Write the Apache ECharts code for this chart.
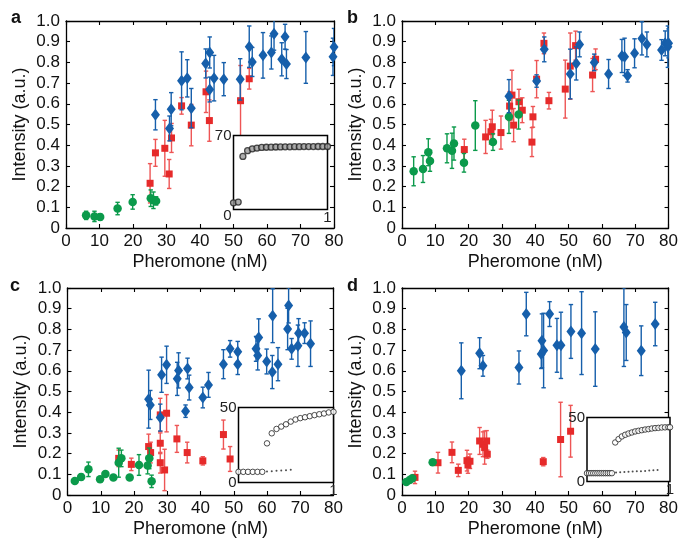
<!DOCTYPE html>
<html><head><meta charset="utf-8">
<script src="https://cdn.jsdelivr.net/npm/echarts@6/dist/echarts.min.js"></script>
<style>html,body{margin:0;padding:0;background:#fff}#c{width:681px;height:540px}</style>
</head><body><div id="c"></div>
<script>
// ---- data: [pheromone nM, intensity, error] ----
const xTickValues = [0,10,20,30,40,50,60,70,80];
const yTickValues = [0,0.1,0.2,0.3,0.4,0.5,0.6,0.7,0.8,0.9,1.0];
const panelLetters = ['a','b','c','d'];

const aGreen = [[6.0,0.061,0.02],[8.5,0.056,0.025],[10.2,0.053,0.015],[15.4,0.094,0.03],[19.9,0.126,0.035],[25.3,0.144,0.04],[26.1,0.134,0.04],[26.9,0.131,0.02]];
const aRed = [[25.1,0.216,0.095],[26.7,0.363,0.065],[29.5,0.385,0.135],[30.8,0.261,0.07],[31.5,0.435,0.07],[34.5,0.59,0.04],[37.4,0.497,0.1],[41.8,0.658,0.1],[42.8,0.519,0.1],[52.1,0.615,0.17],[54.7,0.721,0.05]];
const aBlue = [[26.7,0.547,0.073],[30.9,0.481,0.06],[31.4,0.574,0.08],[34.5,0.711,0.14],[36.2,0.723,0.09],[37.4,0.579,0.095],[41.7,0.795,0.07],[42.9,0.848,0.075],[42.9,0.669,0.06],[44.2,0.724,0.11],[47.1,0.719,0.08],[52.0,0.718,0.1],[54.7,0.876,0.1],[55.6,0.802,0.07],[58.8,0.834,0.11],[61.3,0.848,0.08],[62.1,0.939,0.08],[64.4,0.815,0.08],[65.4,0.924,0.06],[65.8,0.792,0.07],[71.6,0.824,0.125],[79.7,0.827,0.09],[80.0,0.874,0.09]];

const bGreen = [[3.5,0.274,0.07],[6.3,0.285,0.065],[7.9,0.366,0.065],[8.4,0.324,0.05],[13.5,0.385,0.07],[15.0,0.373,0.085],[15.6,0.408,0.08],[18.6,0.315,0.045],[22.0,0.495,0.12],[27.3,0.415,0.04],[32.1,0.537,0.08],[35.0,0.548,0.07]];
const bRed = [[18.7,0.379,0.05],[25.1,0.44,0.08],[26.7,0.465,0.06],[27.1,0.489,0.08],[29.7,0.461,0.08],[32.3,0.589,0.07],[33.0,0.642,0.12],[33.5,0.497,0.08],[35.1,0.61,0.06],[36.1,0.569,0.06],[39.0,0.415,0.07],[39.3,0.537,0.05],[40.4,0.719,0.09],[42.6,0.892,0.05],[44.1,0.615,0.04],[49.0,0.671,0.14],[50.5,0.782,0.16],[52.1,0.881,0.07],[57.2,0.739,0.08],[58.1,0.815,0.05]];
const bBlue = [[32.1,0.637,0.08],[40.4,0.71,0.03],[42.7,0.863,0.06],[50.5,0.744,0.12],[52.3,0.795,0.08],[53.3,0.887,0.06],[57.7,0.8,0.04],[62.0,0.744,0.07],[66.0,0.831,0.08],[66.8,0.827,0.09],[67.7,0.735,0.03],[69.8,0.844,0.07],[72.0,0.916,0.08],[73.5,0.887,0.06],[77.9,0.86,0.05],[79.0,0.892,0.06],[79.8,0.876,0.1],[80.0,0.892,0.07]];

const cGreen = [[2.2,0.068,0.01],[4.1,0.087,0.015],[6.3,0.124,0.035],[9.8,0.076,0.01],[11.4,0.102,0.01],[13.8,0.085,0.01],[15.4,0.156,0.07],[16.2,0.177,0.04],[18.7,0.085,0.01],[21.5,0.145,0.05],[24.1,0.142,0.04],[24.6,0.177,0.05],[25.3,0.066,0.03]];
const cRed = [[15.4,0.177,0.04],[19.2,0.148,0.03],[24.4,0.234,0.06],[25.0,0.205,0.05],[27.9,0.387,0.08],[29.8,0.395,0.09],[27.9,0.25,0.05],[27.9,0.156,0.05],[29.2,0.121,0.1],[32.9,0.271,0.065],[36.0,0.205,0.05],[40.7,0.165,0.02],[46.9,0.292,0.07],[48.9,0.174,0.06]];
const cBlue = [[24.4,0.463,0.14],[24.9,0.435,0.07],[27.9,0.374,0.065],[28.3,0.581,0.085],[29.8,0.629,0.09],[33.0,0.561,0.08],[33.4,0.602,0.085],[35.5,0.405,0.03],[36.1,0.611,0.05],[36.6,0.519,0.06],[40.7,0.471,0.05],[42.4,0.532,0.06],[46.9,0.632,0.07],[48.9,0.706,0.04],[51.2,0.632,0.05],[51.2,0.692,0.05],[56.7,0.706,0.06],[57.2,0.674,0.07],[57.5,0.761,0.09],[59.9,0.645,0.06],[61.6,0.594,0.08],[61.7,0.866,0.13],[63.3,0.632,0.08],[66.5,0.916,0.085],[66.2,0.802,0.1],[67.4,0.706,0.05],[69.3,0.721,0.1],[69.5,0.782,0.07],[71.3,0.782,0.05],[73.1,0.731,0.11]];

const dGreen = [[1.3,0.063,0.01],[2.3,0.073,0.01],[3.1,0.081,0.01],[9.2,0.158,0.01]];
const dRed = [[3.9,0.085,0.03],[10.8,0.156,0.05],[15.0,0.206,0.05],[16.9,0.119,0.03],[19.5,0.166,0.05],[19.8,0.145,0.04],[20.4,0.163,0.035],[23.3,0.261,0.065],[24.3,0.245,0.06],[24.8,0.229,0.08],[25.4,0.261,0.05],[25.6,0.197,0.02],[42.4,0.161,0.02],[47.6,0.268,0.18],[50.6,0.308,0.125]];
const dBlue = [[17.8,0.6,0.135],[23.3,0.685,0.075],[24.3,0.624,0.05],[35.1,0.616,0.08],[37.3,0.874,0.105],[41.8,0.681,0.07],[42.0,0.745,0.13],[42.5,0.698,0.18],[44.3,0.874,0.06],[46.5,0.723,0.13],[47.7,0.723,0.16],[50.7,0.79,0.13],[53.9,0.782,0.2],[58.0,0.705,0.18],[66.6,0.811,0.19],[67.3,0.785,0.135],[71.8,0.697,0.12],[76.0,0.826,0.105]];

// insets
const insetAX = [0,0.05,0.1,0.15,0.2,0.25,0.3,0.35,0.4,0.45,0.5,0.55,0.6,0.65,0.7,0.75,0.8,0.85,0.9,0.95,1.0];
const insetAY = [6.3,7.0,50.2,55.6,57.4,58.1,58.7,58.9,59.0,59.1,59.2,59.3,59.3,59.4,59.4,59.5,59.5,59.5,59.6,59.6,59.6];
const insetAMax = 70;

const insetCLowX = [0,0.05,0.1,0.15,0.2,0.25];
const insetCLowY = [7.1,7.1,7.1,7.1,7.1,7.1];
const insetCDotX = [0.3,0.35,0.4,0.45,0.5,0.55];
const insetCDotY = [7.3,7.5,7.8,8.0,8.2,8.5];
const insetCUpX = [0.3,0.35,0.4,0.45,0.5,0.55,0.6,0.65,0.7,0.75,0.8,0.85,0.9,0.95,1.0];
const insetCUpY = [26.1,32.8,35.7,37.3,38.8,40.6,42.0,42.9,43.5,44.2,44.9,45.5,46.0,46.7,47.1];
const insetCMax = 50;

const insetDLowX = [0,0.025,0.05,0.075,0.1,0.125,0.15,0.175,0.2,0.225,0.25,0.275,0.3];
const insetDLowY = [6.5,6.5,6.5,6.5,6.5,6.5,6.5,6.5,6.5,6.5,6.5,6.5,6.5];
const insetDDotX = [0.35,0.4,0.45,0.5,0.55,0.6,0.65,0.7,0.75,0.8,0.85];
const insetDDotY = [7.0,7.2,7.4,7.6,7.8,8.0,8.1,8.3,8.5,8.7,8.9];
const insetDUpX = [0.34,0.38,0.42,0.46,0.5,0.54,0.58,0.62,0.66,0.7,0.74,0.78,0.82,0.86,0.9,0.94,0.98,1.0];
const insetDUpY = [30.5,33.1,35.2,36.5,37.5,38.3,39.1,39.6,40.1,40.6,40.9,41.4,41.7,41.9,42.2,42.3,42.4,42.4];
const insetDMax = 50;

// ---- styling / layout ----
const GREEN = '#0b9a4b', RED = '#e62a2a', REDBAR = '#ee5555', BLUE = '#165fab';
const FONT = 'Liberation Sans, Arial, Helvetica, sans-serif';
const mainGrids = [
  {left:66, top:21, width:268, height:207},
  {left:402, top:21, width:269, height:207},
  {left:67.5, top:288, width:266, height:207},
  {left:402, top:288, width:269, height:207}
];
const letterPos = [[11,9],[347,9],[10,277],[347,277]];
const panels = [
  [aGreen,aRed,aBlue],[bGreen,bRed,bBlue],[cGreen,cRed,cBlue],[dGreen,dRed,dBlue]
];
const insetGrids = [
  {left:233.5, top:135.5, width:94, height:74},
  {left:238.5, top:407.5, width:95, height:75},
  {left:587, top:417.5, width:83, height:64}
];

const grid = [], xAxis = [], yAxis = [], series = [], title = [];
const lineStyle = {color:'#000', width:1.3};
const tick = {show:true, inside:true, length:4, lineStyle:{color:'#000', width:1.1}};

function errSeries(data, xi, yi, color, z) {
  return {
    type:'custom', xAxisIndex:xi, yAxisIndex:yi, z:z, clip:true, silent:true,
    data:data, encode:{x:0, y:1},
    renderItem:function(params, api){
      const x = api.value(0), y = api.value(1), e = api.value(2);
      const t = api.coord([x, y+e]), b = api.coord([x, y-e]);
      const w = 2.2, st = {stroke:color, lineWidth:1.4};
      return {type:'group', children:[
        {type:'line', shape:{x1:t[0],y1:t[1],x2:b[0],y2:b[1]}, style:st},
        {type:'line', shape:{x1:t[0]-w,y1:t[1],x2:t[0]+w,y2:t[1]}, style:st},
        {type:'line', shape:{x1:b[0]-w,y1:b[1],x2:b[0]+w,y2:b[1]}, style:st}
      ]};
    }
  };
}
function pts(data){ return data.map(d=>[d[0],d[1]]); }

panels.forEach((p, i) => {
  grid.push(Object.assign({containLabel:false}, mainGrids[i]));
  const xi = xAxis.length, yi = yAxis.length;
  xAxis.push({gridIndex:i, type:'value', min:xTickValues[0], max:xTickValues[xTickValues.length-1], interval:10,
    position:'bottom', axisLine:{show:true, onZero:false, lineStyle}, axisTick:tick,
    axisLabel:{fontSize:17, margin:5, color:'#111', fontFamily:FONT, showMaxLabel:true, showMinLabel:true},
    splitLine:{show:false}, name:'Pheromone (nM)', nameLocation:'middle', nameGap:25,
    nameTextStyle:{fontSize:18, color:'#111', fontFamily:FONT}});
  xAxis.push({gridIndex:i, type:'value', min:0, max:80, interval:10, position:'top',
    axisLine:{show:true, onZero:false, lineStyle}, axisTick:tick, axisLabel:{show:false}, splitLine:{show:false}});
  yAxis.push({gridIndex:i, type:'value', min:yTickValues[0], max:yTickValues[yTickValues.length-1], interval:0.1,
    position:'left', axisLine:{show:true, onZero:false, lineStyle}, axisTick:tick,
    axisLabel:{fontSize:17, margin:6, color:'#111', fontFamily:FONT, formatter:v=> v===0?'0':v.toFixed(1)},
    splitLine:{show:false}, name:'Intensity (a.u.)', nameLocation:'middle', nameGap:37,
    nameTextStyle:{fontSize:18, color:'#111', fontFamily:FONT}});
  yAxis.push({gridIndex:i, type:'value', min:0, max:1, interval:0.1, position:'right',
    axisLine:{show:true, onZero:false, lineStyle}, axisTick:tick, axisLabel:{show:false}, splitLine:{show:false}});
  const [g, r, b] = p;
  series.push(errSeries(r, xi, yi, REDBAR, 2));
  series.push({type:'scatter', xAxisIndex:xi, yAxisIndex:yi, z:3, data:pts(r), symbol:'rect', symbolSize:7, itemStyle:{color:RED, opacity:1}});
  series.push(errSeries(g, xi, yi, GREEN, 4));
  series.push({type:'scatter', xAxisIndex:xi, yAxisIndex:yi, z:5, data:pts(g), symbol:'circle', symbolSize:8.5, itemStyle:{color:GREEN, opacity:1}});
  series.push(errSeries(b, xi, yi, BLUE, 6));
  series.push({type:'scatter', xAxisIndex:xi, yAxisIndex:yi, z:7, data:pts(b), symbol:'diamond', symbolSize:[9,12], itemStyle:{color:BLUE, opacity:1}});
  title.push({text:panelLetters[i], left:letterPos[i][0], top:letterPos[i][1], padding:0,
    textStyle:{fontSize:18, fontWeight:'bold', color:'#111', fontFamily:FONT}});
});

function zip(xs, ys){ return xs.map((x,k)=>[x, ys[k]]); }
const insets = [
  {max:insetAMax, zeroPad:12, sets:[{d:zip(insetAX, insetAY), kind:'gray'}]},
  {max:insetCMax, zeroPad:0, sets:[{d:zip(insetCLowX, insetCLowY), kind:'open'},{d:zip(insetCDotX, insetCDotY), kind:'dot'},{d:zip(insetCUpX, insetCUpY), kind:'open'}]},
  {max:insetDMax, zeroPad:0, sets:[{d:zip(insetDLowX, insetDLowY), kind:'open'},{d:zip(insetDDotX, insetDDotY), kind:'dot'},{d:zip(insetDUpX, insetDUpY), kind:'open'}]}
];
insets.forEach((ins, k) => {
  const gi = grid.length;
  grid.push(Object.assign({show:true, backgroundColor:'#fff', borderColor:'#000', borderWidth:1.5, z:10}, insetGrids[k]));
  const xi = xAxis.length, yi = yAxis.length;
  xAxis.push({gridIndex:gi, type:'value', min:0, max:1, interval:1, z:11,
    axisLine:{show:false}, axisTick:{show:false}, splitLine:{show:false},
    axisLabel:{fontSize:15, margin:1, color:'#222', fontFamily:FONT, formatter:v=> v===1?'1':''}});
  yAxis.push({gridIndex:gi, type:'value', min:0, max:ins.max, interval:ins.max, z:11,
    axisLine:{show:false}, axisTick:{show:false}, splitLine:{show:false},
    axisLabel:{fontSize:15, margin:2, color:'#222', fontFamily:FONT,
      formatter:v=> v===0 ? '{z|0}' : String(v),
      rich:{z:{fontSize:15, color:'#222', fontFamily:FONT, padding:[ins.zeroPad,0,0,0]}}}});
  ins.sets.forEach(s => {
    let st;
    if (s.kind==='gray') st = {symbol:'circle', symbolSize:6, itemStyle:{color:'#999', borderColor:'#222', borderWidth:1.3}};
    else if (s.kind==='open') st = {symbol:'circle', symbolSize:5.5, itemStyle:{color:'#fff', borderColor:'#222', borderWidth:1}};
    else st = {symbol:'circle', symbolSize:2, itemStyle:{color:'#222'}};
    series.push(Object.assign({type:'scatter', xAxisIndex:xi, yAxisIndex:yi, z:12, data:s.d, silent:true}, st));
  });
});

const chart = echarts.init(document.getElementById('c'), null, {renderer:'canvas'});
chart.setOption({animation:false, backgroundColor:'#fff', textStyle:{fontFamily:FONT}, title, grid, xAxis, yAxis, series});
</script></body></html>
